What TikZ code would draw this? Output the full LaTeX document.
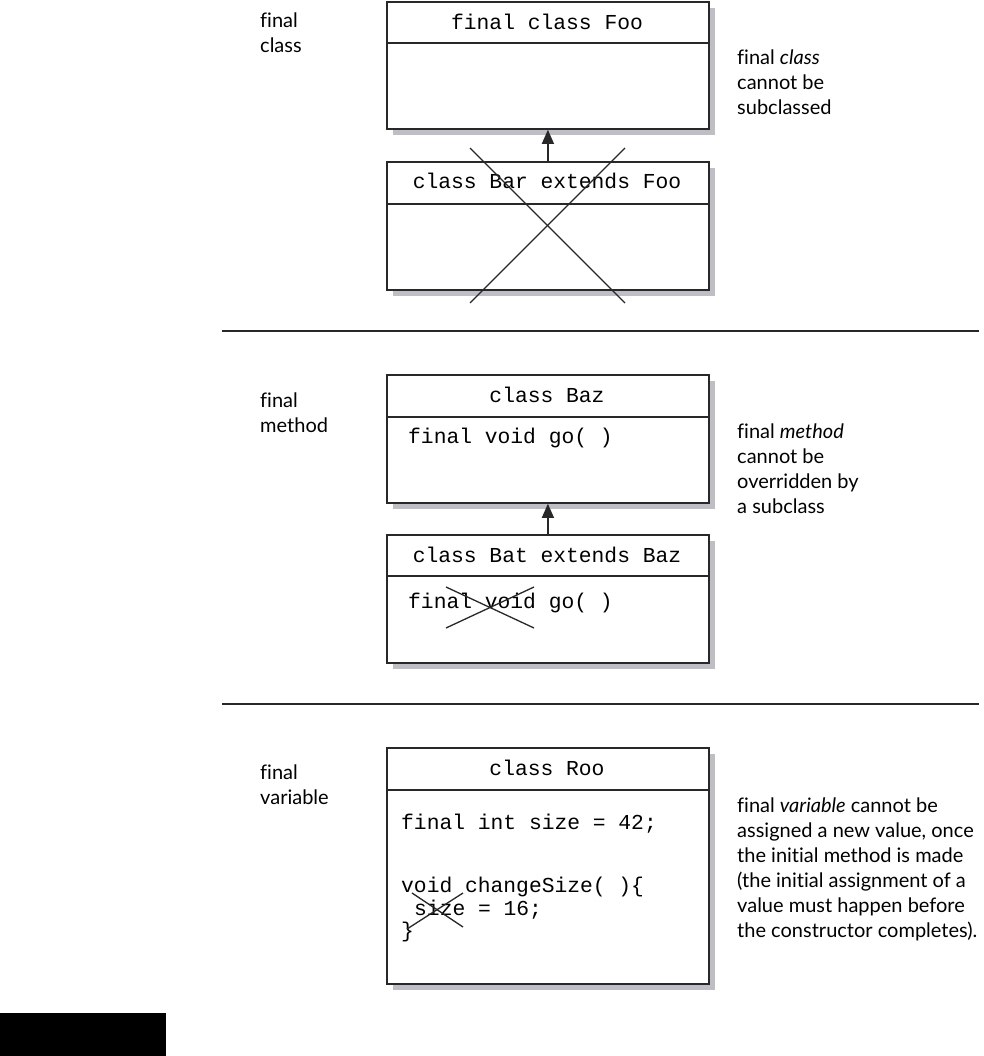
\documentclass[tikz,border=0pt]{standalone}
\usepackage{fontspec}
\setmainfont{Lato}[Ligatures=NoCommon]
\setmonofont{Liberation Mono}
\usetikzlibrary{arrows.meta,shadows,calc}
\definecolor{shade}{RGB}{190,190,196}
\definecolor{ink}{RGB}{40,40,40}
\begin{document}
\begin{tikzpicture}[x=1pt,y=-1pt,
  cls/.style={draw=ink, line width=1.8pt, fill=white, rectangle, inner sep=0pt,
    minimum width=322pt, anchor=north west,
    drop shadow={shadow xshift=6pt, shadow yshift=-6pt, fill=shade, opacity=1}},
  hdr/.style={draw=ink, line width=1.5pt},
  code/.style={font=\fontsize{21.3}{25}\selectfont\ttfamily, inner sep=0pt},
  title/.style={code, anchor=base},
  body/.style={code, anchor=base west},
  lbl/.style={font=\fontsize{20}{25}\selectfont, inner sep=0pt, anchor=base west, align=left},
  crossline/.style={draw=ink, line width=1.3pt},
  sep/.style={draw=ink, line width=1.5pt},
  inherit/.style={draw=ink, line width=1.3pt, -{Triangle[length=14pt,width=12pt]}}
]
\useasboundingbox (0,0) rectangle (983,1056);

% ---------- final class ----------
\node[cls, minimum height=127pt] (foo) at (386,1) {};
\draw[hdr] ($(foo.north west)+(0,42)$) -- ($(foo.north east)+(0,42)$);
\node[title] (footitle) at (547,30) {final class Foo};

\node[cls, minimum height=128pt] (bar) at (386,161) {};
\draw[hdr] ($(bar.north west)+(0,43)$) -- ($(bar.north east)+(0,43)$);
\node[title] (bartitle) at (547,189) {class Bar extends Foo};

\draw[inherit] (bar.north) -- (foo.south);
\draw[crossline] (470,148) -- (625,303);
\draw[crossline] (625,148) -- (470,303);

\node[lbl] (lclass) at (260,53) {final\\class};
\node[lbl] (rclass) at (737,115) {final \textit{class}\\cannot be\\subclassed};

\draw[sep] (222,331) coordinate (s1a) -- (979,331) coordinate (s1b);

% ---------- final method ----------
\node[cls, minimum height=128pt] (baz) at (386,374) {};
\draw[hdr] ($(baz.north west)+(0,43)$) -- ($(baz.north east)+(0,43)$);
\node[title] (baztitle) at (547,402) {class Baz};
\node[body] (bazgo) at (408,443) {final void go( )};

\node[cls, minimum height=128pt] (bat) at (386,534) {};
\draw[hdr] ($(bat.north west)+(0,42)$) -- ($(bat.north east)+(0,42)$);
\node[title] (battitle) at (547,562) {class Bat extends Baz};
\node[body] (batgo) at (408,608) {final void go( )};

\draw[inherit] (bat.north) -- (baz.south);
\draw[crossline] (446,587) -- (534,628);
\draw[crossline] (446,628) -- (534,587);

\node[lbl] (lmethod) at (260,432) {final\\method};
\node[lbl] (rmethod) at (737,513) {final \textit{method}\\cannot be\\overridden by\\a subclass};

\draw[sep] (222,704) coordinate (s2a) -- (979,704) coordinate (s2b);

% ---------- final variable ----------
\node[cls, minimum height=236pt] (roo) at (386,747) {};
\draw[hdr] ($(roo.north west)+(0,43)$) -- ($(roo.north east)+(0,43)$);
\node[title] (rootitle) at (547,775) {class Roo};
\node[body] (roo1) at (401,829) {final int size = 42;};
\node[body] (roo2) at (401,892) {void changeSize( )\{};
\node[body] (roo3) at (414,915) {size = 16;};
\node[body] (roo4) at (401,937) {\}};
\draw[crossline] (412,893) -- (463,927);
\draw[crossline] (463,893) -- (407,929);

\node[lbl] (lvar) at (260,804) {final\\variable};
\node[lbl] (rvar) at (737,937) {final \textit{variable} cannot be\\assigned a new value, once\\the initial method is made\\(the initial assignment of a\\value must happen before\\the constructor completes).};

% ---------- black block ----------
\fill[black] (0,1013) rectangle (166,1056);
\end{tikzpicture}
\end{document}
